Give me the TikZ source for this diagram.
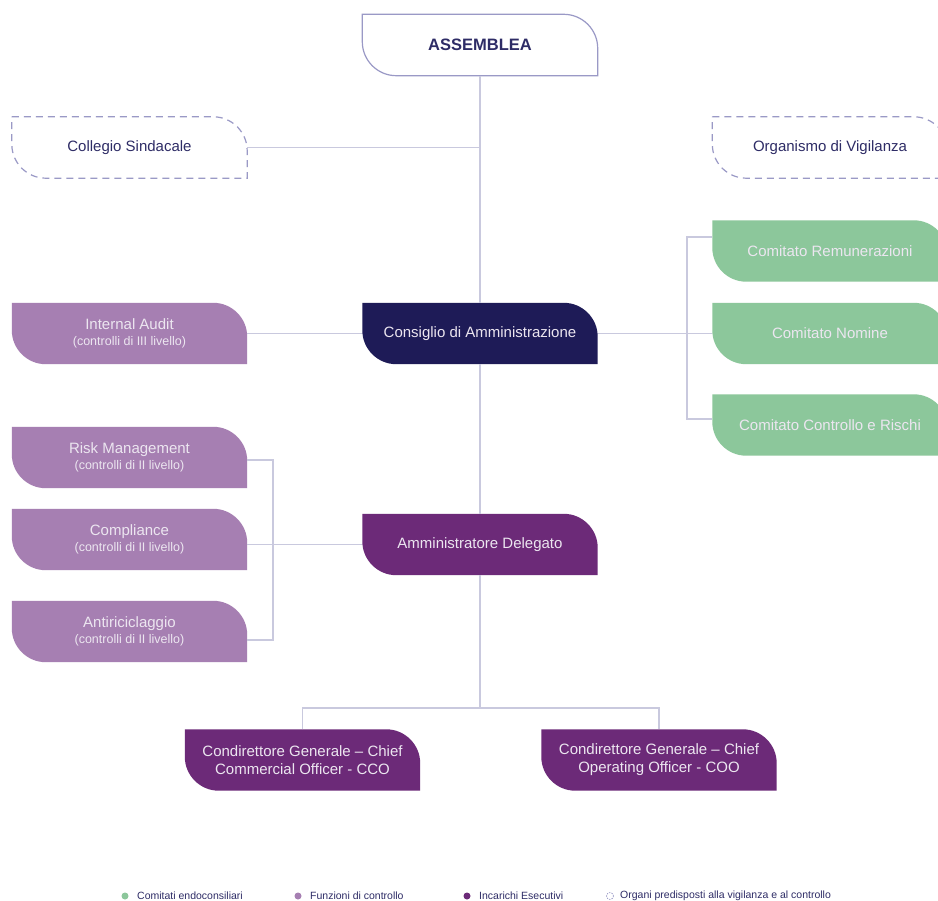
\documentclass[tikz,border=0pt]{standalone}
\usepackage{fontspec}
\setmainfont{Liberation Sans}
\usetikzlibrary{backgrounds}
\definecolor{linec}{HTML}{C9C9DE}
\definecolor{navy}{HTML}{1E1B57}
\definecolor{execc}{HTML}{6C2A78}
\definecolor{ctrlc}{HTML}{A67FB2}
\definecolor{comc}{HTML}{8CC79B}
\definecolor{inkc}{HTML}{2E2C66}
\definecolor{edgec}{HTML}{9A99C6}
\definecolor{palec}{HTML}{ECE6F0}
\def\orgshape[#1](#2)(#3){\path[#1] (#2.north west) -- ([xshift=-#3]#2.north east) arc (90:0:#3) -- (#2.south east) -- ([xshift=#3]#2.south west) arc (270:180:#3) -- cycle;}
\def\ftwo#1#2{{\fontsize{15}{17}\selectfont #1}\\[-1.5pt]{\fontsize{12.5}{14}\selectfont #2}}
\tikzset{
  box/.style={minimum width=235pt, minimum height=61pt, inner sep=0pt, align=center, font=\fontsize{15}{18}\selectfont},
  light/.style={box, text=palec},
  dark/.style={box, text=inkc},
  link/.style={draw=linec, line width=1.2pt},
  legtext/.style={anchor=west, inner sep=0pt, text=inkc, font=\fontsize{10.5}{12}\selectfont},
  legdot/.style={circle, inner sep=0pt, minimum size=7pt}
}
\begin{document}
\begin{tikzpicture}[x=1pt, y=-1pt]
			%%%%% FRAME %%%%%
			\useasboundingbox (0,0) rectangle (938,901);
			
			%%%%% NODES %%%%%
			\node[dark, font=\fontsize{16.5}{18}\selectfont\bfseries] (ass) at (480, 45) {ASSEMBLEA};
			\node[dark] (cs) at (129.5, 147.5) {Collegio Sindacale};
			\node[dark] (odv) at (830, 147.5) {Organismo di Vigilanza};
			
			\node[light] (rem) at (830, 251) {Comitato Remunerazioni};
			\node[light] (nom) at (830, 333.5) {Comitato Nomine};
			\node[light] (ccr) at (830, 425) {Comitato Controllo e Rischi};
			
			\node[light] (ia) at (129.5, 333.5) {\ftwo{Internal Audit}{(controlli di III livello)}};
			\node[light] (cda) at (480, 333.5) {Consiglio di Amministrazione};
			
			\node[light] (rm) at (129.5, 457.5) {\ftwo{Risk Management}{(controlli di II livello)}};
			\node[light] (comp) at (129.5, 539.5) {\ftwo{Compliance}{(controlli di II livello)}};
			\node[light] (aml) at (129.5, 631.5) {\ftwo{Antiriciclaggio}{(controlli di II livello)}};
			\node[light] (ad) at (480, 544.5) {Amministratore Delegato};
			
			\node[light, font=\fontsize{15}{18}\selectfont] (cco) at (302.5, 760) {Condirettore Generale -- Chief\\Commercial Officer - CCO};
			\node[light, font=\fontsize{15}{18}\selectfont] (coo) at (659, 760) {Condirettore Generale -- Chief\\Operating Officer - COO};
			
			%%%%% SHAPES %%%%%
			\begin{scope}[on background layer]
			\fill[white] (0,0) rectangle (938,901);
			\orgshape[draw=edgec, fill=white, line width=1.2pt](ass)(34pt);
			\orgshape[draw=edgec, dashed, dash pattern=on 7pt off 5pt, line width=1.2pt](cs)(34pt);
			\orgshape[draw=edgec, dashed, dash pattern=on 7pt off 5pt, line width=1.2pt](odv)(34pt);
			\orgshape[fill=comc](rem)(34pt);
			\orgshape[fill=comc](nom)(34pt);
			\orgshape[fill=comc](ccr)(34pt);
			\orgshape[fill=ctrlc](ia)(34pt);
			\orgshape[fill=navy](cda)(34pt);
			\orgshape[fill=ctrlc](rm)(34pt);
			\orgshape[fill=ctrlc](comp)(34pt);
			\orgshape[fill=ctrlc](aml)(34pt);
			\orgshape[fill=execc](ad)(34pt);
			\orgshape[fill=execc](cco)(34pt);
			\orgshape[fill=execc](coo)(34pt);
			\end{scope}
			
			%%%%% LINKS %%%%%
			\coordinate (cbr) at (687, 333.5);
			\coordinate (ctop) at (687, 237);
			\coordinate (cbot) at (687, 419);
			\coordinate (lbr) at (273, 544.5);
			\coordinate (ltop) at (273, 460);
			\coordinate (lbot) at (273, 640);
			\coordinate (dsplit) at (480, 708);
			
			\draw[link] (ass.south) -- (cda.north);
			\draw[link] (cs.east) -- (cs.east -| ass.south);
			\draw[link] (ia.east) -- (cda.west);
			\draw[link] (cda.south) -- (ad.north);
			
			\draw[link] (cda.east) -- (cbr);
			\draw[link] (ctop -| rem.west) -- (ctop) -- (cbot) -- (cbot -| ccr.west);
			\draw[link] (cbr) -- (nom.west);
			
			\draw[link] (ad.west) -- (lbr);
			\draw[link] (ltop -| rm.east) -- (ltop) -- (lbot) -- (lbot -| aml.east);
			\draw[link] (lbr) -- (lbr -| comp.east);
			
			\draw[link] (ad.south) -- (dsplit);
			\draw[link] (cco.north) -- (cco.north |- dsplit) -- (coo.north |- dsplit) -- (coo.north);
			
			%%%%% LEGEND %%%%%
			\node[legdot, fill=comc] (lg1) at (125, 896) {};
			\node[legtext] (lt1) at (137, 896) {Comitati endoconsiliari};
			\node[legdot, fill=ctrlc] (lg2) at (298, 896) {};
			\node[legtext] (lt2) at (310, 896) {Funzioni di controllo};
			\node[legdot, fill=execc] (lg3) at (467, 896) {};
			\node[legtext] (lt3) at (479, 896) {Incarichi Esecutivi};
			\node[legdot, draw=edgec, dashed, dash pattern=on 1.5pt off 1pt, line width=0.6pt] (lg4) at (610, 896) {};
			\node[legtext] (lt4) at (620, 896) {Organi predisposti alla vigilanza e al controllo};
		\end{tikzpicture}
\end{document}
